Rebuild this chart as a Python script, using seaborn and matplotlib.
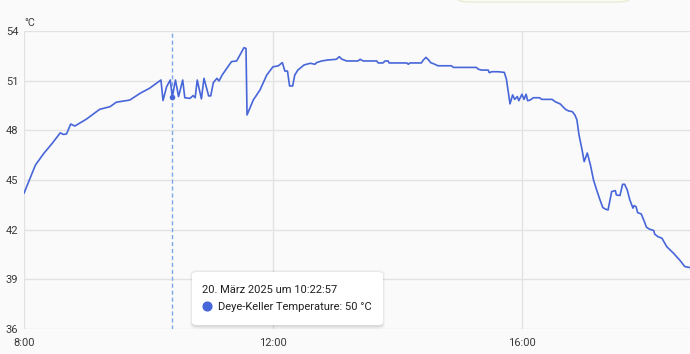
import matplotlib
matplotlib.use("Agg")
import matplotlib.pyplot as plt
import matplotlib.dates as mdates
from matplotlib.patches import FancyBboxPatch
from matplotlib.ticker import FuncFormatter
import seaborn as sns
import pandas as pd

DATE = "2025-03-20"

times = [
    "08:00:00", "08:11:00", "08:19:00", "08:27:00", "08:35:00", "08:38:00", "08:41:00", "08:45:00",
    "08:49:00", "09:00:00", "09:13:00", "09:23:00", "09:29:00", "09:42:00", "09:52:00", "10:01:00",
    "10:12:00", "10:14:00", "10:17:30", "10:21:00", "10:22:57", "10:26:00", "10:29:00", "10:33:00",
    "10:35:00", "10:40:00", "10:43:00", "10:45:00", "10:47:00", "10:51:00", "10:53:30", "10:58:00",
    "11:00:00", "11:02:30", "11:06:00", "11:08:00", "11:11:00", "11:20:00", "11:25:00", "11:32:00",
    "11:34:00", "11:35:00", "11:41:00", "11:47:30", "11:54:00", "12:00:00", "12:05:00", "12:09:00",
    "12:11:30", "12:14:00", "12:16:00", "12:19:00", "12:21:00", "12:24:00", "12:30:00", "12:36:00",
    "12:40:30", "12:42:00", "12:47:00", "12:53:00", "13:01:00", "13:04:00", "13:06:00", "13:11:00",
    "13:22:00", "13:24:00", "13:27:00", "13:40:00", "13:41:30", "13:46:00", "13:48:00", "13:51:00",
    "13:52:00", "14:09:00", "14:10:30", "14:12:00", "14:23:00", "14:25:00", "14:27:30", "14:30:00",
    "14:32:00", "14:36:00", "14:39:00", "14:52:00", "14:54:00", "15:16:00", "15:18:00", "15:21:00",
    "15:27:30", "15:28:30", "15:31:00", "15:37:00", "15:43:00", "15:45:00", "15:48:30", "15:51:00",
    "15:53:00", "15:55:30", "15:57:00", "16:00:00", "16:02:00", "16:04:00", "16:05:30", "16:08:00",
    "16:11:00", "16:17:00", "16:19:00", "16:29:00", "16:32:00", "16:37:00", "16:40:00", "16:42:00",
    "16:45:00", "16:48:30", "16:51:00", "16:53:00", "16:55:00", "16:58:00", "17:00:00", "17:03:00",
    "17:06:00", "17:09:00", "17:12:00", "17:15:00", "17:18:00", "17:21:00", "17:23:00", "17:26:30",
    "17:30:00", "17:31:00", "17:34:30", "17:37:00", "17:39:00", "17:41:30", "17:44:00", "17:47:00",
    "17:48:00", "17:50:00", "17:51:30", "17:55:00", "17:58:00", "18:00:00", "18:03:00", "18:07:00",
    "18:08:00", "18:11:00", "18:15:00", "18:19:30", "18:26:00", "18:32:00", "18:37:00", "18:42:00",
]

temps = [
    44.2, 45.9, 46.6, 47.2, 47.85, 47.75, 47.78, 48.38,
    48.26, 48.67, 49.27, 49.43, 49.7, 49.83, 50.24, 50.54,
    51.04, 49.8, 50.64, 51.04, 50.0, 51.04, 50.04, 51.04,
    49.97, 49.93, 50.1, 49.97, 51.04, 49.9, 51.14, 50.08,
    50.08, 50.88, 51.14, 50.98, 51.34, 52.15, 52.19, 52.99,
    52.95, 48.93, 49.83, 50.44, 51.34, 51.84, 51.89, 52.09,
    51.58, 51.58, 50.68, 50.68, 51.34, 51.64, 51.95, 52.05,
    51.99, 52.09, 52.19, 52.25, 52.29, 52.45, 52.31, 52.19,
    52.19, 52.29, 52.19, 52.19, 52.07, 52.07, 52.19, 52.19,
    52.07, 52.07, 51.99, 52.07, 52.07, 52.25, 52.41, 52.25,
    52.09, 51.99, 51.9, 51.9, 51.8, 51.8, 51.69, 51.64,
    51.64, 51.48, 51.54, 51.54, 51.5, 51.1, 49.6, 50.14,
    49.87, 50.04, 49.79, 50.18, 49.87, 50.18, 49.79, 49.83,
    49.97, 49.97, 49.87, 49.87, 49.73, 49.59, 49.39, 49.27,
    49.17, 49.13, 48.93, 48.63, 47.72, 46.81, 46.11, 46.63,
    45.91, 45.0, 44.4, 43.84, 43.33, 43.23, 43.19, 44.3,
    44.36, 44.1, 44.06, 44.74, 44.74, 44.4, 43.8, 43.3,
    43.45, 43.39, 43.03, 42.95, 42.49, 42.15, 42.03, 41.95,
    41.73, 41.58, 41.48, 40.98, 40.58, 40.17, 39.77, 39.71,
]

y_ticks = [36, 39, 42, 45, 48, 51, 54]
x_ticks = ["08:00", "12:00", "16:00"]
x_range = ["08:00", "18:42"]
unit_label = "°C"

hover_time = "10:22:57"
hover_value = 50
tooltip_title = "20. März 2025 um 10:22:57"
tooltip_series = "Deye-Keller Temperature: 50 °C"

# ---------------------------------------------------------------------------
sns.set_style("white")
plt.rcParams["font.family"] = ["Roboto", "DejaVu Sans"]

LINE = "#4766d9"
GRID = "#e2e2e2"
BG = "#fafafa"
TXT = "#3a3a3a"
FS = 8.0

W, H = 690, 354
fig = plt.figure(figsize=(W / 100, H / 100), dpi=100, facecolor=BG)


def fx(px):
    return px / W


def fy(py):
    return 1 - py / H


ax_l, ax_r, ax_t, ax_b = 24, 690, 31, 329
ax = fig.add_axes([fx(ax_l), fy(ax_b), fx(ax_r - ax_l), (ax_b - ax_t) / H])
ax.set_facecolor(BG)

df = pd.DataFrame({
    "time": pd.to_datetime([f"{DATE} {t}" for t in times]),
    "temp": temps,
})

sns.lineplot(data=df, x="time", y="temp", ax=ax, color=LINE, linewidth=1.2, zorder=3)

ht = pd.to_datetime(f"{DATE} {hover_time}")
ax.axvline(ht, color="#7ea6ea", linewidth=1.0, linestyle=(0, (3, 2)), zorder=2)
ax.scatter([ht], [hover_value], s=16, color=LINE, zorder=4, linewidths=0)

ax.set_xlim(pd.to_datetime(f"{DATE} {x_range[0]}"), pd.to_datetime(f"{DATE} {x_range[1]}"))
ax.set_ylim(y_ticks[0], y_ticks[-1])
ax.set_yticks(y_ticks)
ax.set_xticks(pd.to_datetime([f"{DATE} {t}" for t in x_ticks]))
ax.xaxis.set_major_formatter(FuncFormatter(
    lambda v, p: f"{mdates.num2date(v).hour}:{mdates.num2date(v).minute:02d}"))

ax.grid(True, color=GRID, linewidth=1.0, zorder=0)
for s in ax.spines.values():
    s.set_visible(False)
ax.tick_params(axis="both", length=0, labelsize=FS, colors=TXT)
ax.tick_params(axis="y", pad=4.1)
ax.tick_params(axis="x", pad=6.3)
ax.set_xlabel("")
ax.set_ylabel("")

fig.text(fx(24), fy(23), unit_label, fontsize=7.7, color=TXT, ha="left", va="center")

# partial element at the top edge
top = FancyBboxPatch((fx(455), fy(2)), fx(632 - 455), 0.08,
                     boxstyle="round,pad=0,rounding_size=0.02", transform=fig.transFigure,
                     facecolor="#fbfbf6", edgecolor="#e6ecd4", linewidth=1.0, zorder=5)
fig.patches.append(top)

# tooltip with shadow
bx0, by0, bx1, by1 = 192, 272, 383, 325
for i, a in enumerate([0.05, 0.04, 0.03]):
    d = i + 1
    sh = FancyBboxPatch((fx(bx0 - d + 1), fy(by1 + d + 1)), fx(bx1 - bx0 + 2 * d - 2), (by1 - by0 + 2 * d) / H,
                        boxstyle=f"round,pad=0,rounding_size={fx(5 + d)}", transform=fig.transFigure,
                        facecolor="black", edgecolor="none", alpha=a, zorder=6)
    fig.patches.append(sh)
tip = FancyBboxPatch((fx(bx0), fy(by1)), fx(bx1 - bx0), (by1 - by0) / H,
                     boxstyle=f"round,pad=0,rounding_size={fx(5)}", transform=fig.transFigure,
                     facecolor="white", edgecolor="none", zorder=7)
fig.patches.append(tip)

fig.text(fx(202), fy(290), tooltip_title, fontsize=FS, color="#212121",
         ha="left", va="center", zorder=8)
fig.text(fx(218), fy(306.5), tooltip_series, fontsize=FS, color="#212121",
         ha="left", va="center", zorder=8)
fig.add_artist(plt.Line2D([fx(206.7)], [fy(306)], marker="o", markersize=6.3,
                          color=LINE, linestyle="none", transform=fig.transFigure, zorder=8))

fig.savefig("out.png", dpi=100, facecolor=BG)
